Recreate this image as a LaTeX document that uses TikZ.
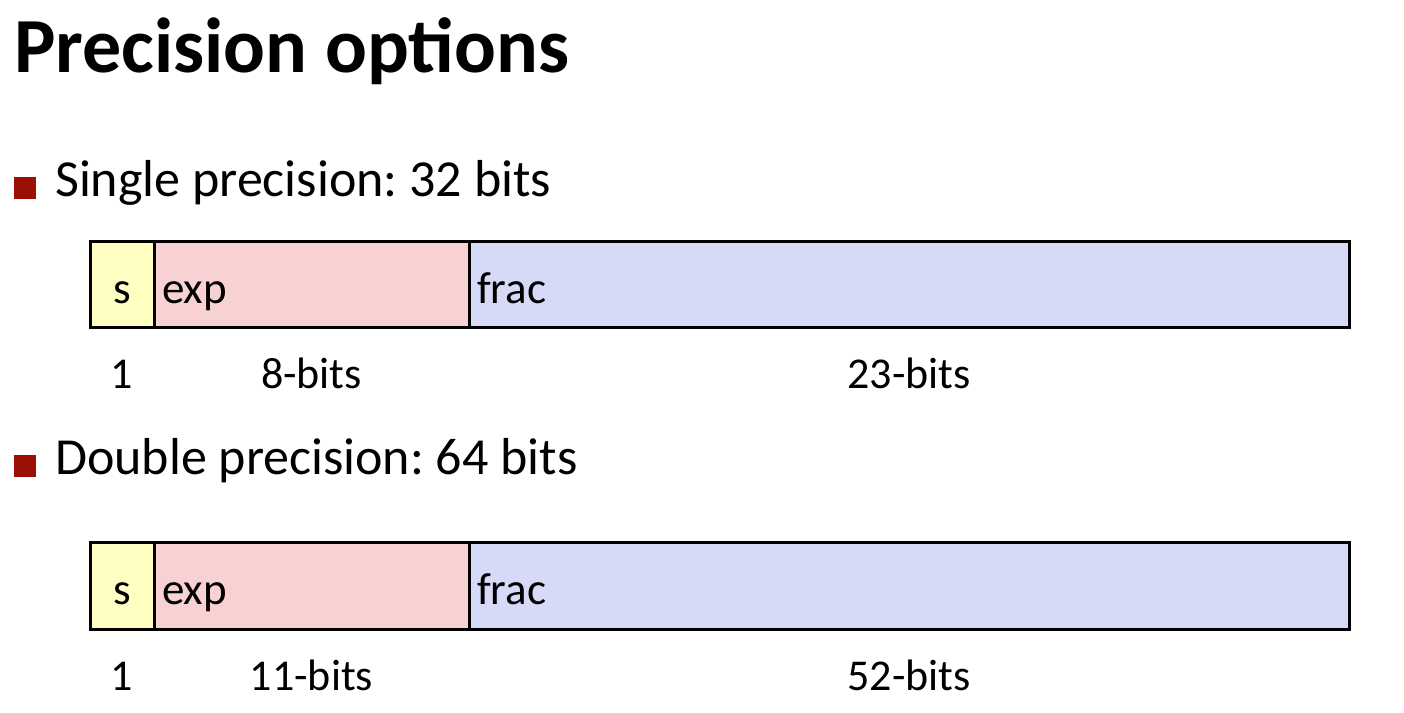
\documentclass[tikz,border=0pt]{standalone}
\usepackage{fontspec}
\setmainfont{Carlito}
\usetikzlibrary{positioning}

\definecolor{bulletred}{RGB}{155,15,5}
\definecolor{signfill}{RGB}{255,255,196}
\definecolor{expfill}{RGB}{248,210,210}
\definecolor{fracfill}{RGB}{214,218,246}

\frenchspacing

\tikzset{
  field/.style={draw, line width=3pt, outer sep=0pt, minimum height=86pt, inner xsep=8pt, inner ysep=0pt,
    text height=37pt, text depth=0pt, font=\fontsize{45}{54}\selectfont},
  bitlabel/.style={anchor=base, inner sep=0pt, font=\fontsize{44}{52}\selectfont},
  bulletbox/.style={fill=bulletred, minimum size=22pt, inner sep=0pt, outer sep=0pt, anchor=south west},
  itemtext/.style={anchor=base west, inner sep=0pt, font=\fontsize{52}{62}\selectfont},
}

\begin{document}
\begin{tikzpicture}[x=1pt, y=1pt]

  \def\labeldrop{61pt}

  \useasboundingbox (0,0) rectangle (1404,712);

  \node (title) [anchor=base west, inner sep=0pt, font=\fontsize{78}{90}\selectfont\bfseries] at (14,639) {Precision options};

  \node (bullet1) [bulletbox] at (14,513) {};
  \node (single) [itemtext] at (55,515) {Single precision: 32 bits};

  \node (s1) [field, fill=signfill, minimum width=64pt, anchor=west] at (90,427) {s};
  \node (exp1) [field, fill=expfill, text width=299pt, align=left, right=0pt of s1] {exp};
  \node (frac1) [field, fill=fracfill, text width=864pt, align=left, right=0pt of exp1] {frac};

  \node (sbits1) [bitlabel] at ([yshift=-\labeldrop]s1.south) {1};
  \node (expbits1) [bitlabel] at ([yshift=-\labeldrop]exp1.south) {8-bits};
  \node (fracbits1) [bitlabel] at ([yshift=-\labeldrop]frac1.south) {23-bits};

  \node (bullet2) [bulletbox] at (14,235) {};
  \node (double) [itemtext] at (55,237) {Double precision: 64 bits};

  \node (s2) [field, fill=signfill, minimum width=64pt, anchor=west] at (90,126) {s};
  \node (exp2) [field, fill=expfill, text width=299pt, align=left, right=0pt of s2] {exp};
  \node (frac2) [field, fill=fracfill, text width=864pt, align=left, right=0pt of exp2] {frac};

  \node (sbits2) [bitlabel] at ([yshift=-\labeldrop]s2.south) {1};
  \node (expbits2) [bitlabel] at ([yshift=-\labeldrop]exp2.south) {11-bits};
  \node (fracbits2) [bitlabel] at ([yshift=-\labeldrop]frac2.south) {52-bits};

\end{tikzpicture}
\end{document}
